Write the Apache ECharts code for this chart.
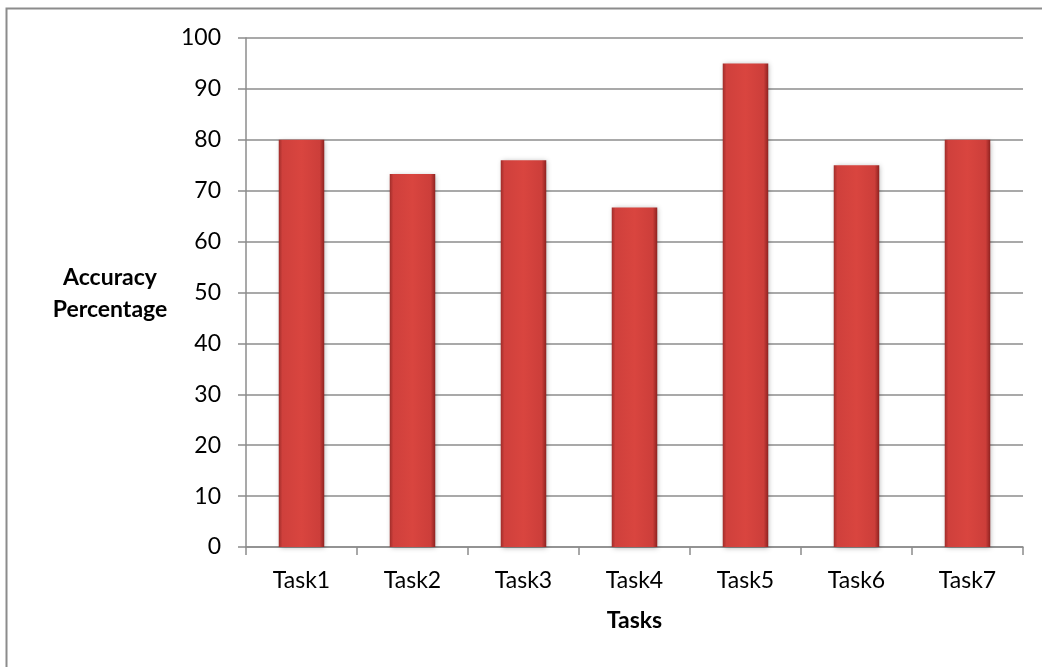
<!DOCTYPE html>
<html>
<head>
<meta charset="utf-8">
<script src="https://cdn.jsdelivr.net/npm/echarts@6/dist/echarts.min.js"></script>
<style>html,body{margin:0;padding:0;background:#fff;}#c{width:1042px;height:667px;}</style>
</head>
<body>
<div id="c"></div>
<script>
var categories = ["Task1", "Task2", "Task3", "Task4", "Task5", "Task6", "Task7"];
var accuracy = [80, 73.3, 76, 66.7, 95, 75, 80];
var yTitle = "Accuracy\nPercentage";
var xTitle = "Tasks";

var chart = echarts.init(document.getElementById('c'));
var font = "Lato";
chart.setOption({
  animation: false,
  backgroundColor: '#fff',
  grid: {left: 246, right: 19, top: 38, bottom: 120},
  graphic: [
    {type: 'polyline', shape: {points: [[6.5, 667], [6.5, 8.5], [1042, 8.5]]}, style: {stroke: '#8c8c8c', lineWidth: 2, fill: null}},
    {type: 'text', x: 110, y: 294, style: {text: yTitle, fontFamily: font, fontSize: 23, fontWeight: 'bold', fill: '#000', align: 'center', verticalAlign: 'middle', lineHeight: 32}}
  ],
  xAxis: {
    type: 'category', data: categories,
    name: xTitle, nameLocation: 'middle', nameGap: 62,
    nameTextStyle: {fontFamily: font, fontSize: 23, fontWeight: 'bold', color: '#000'},
    axisLine: {lineStyle: {color: '#8c8c8c', width: 1.5}},
    axisTick: {show: true, length: 8, lineStyle: {color: '#8c8c8c', width: 1.5}},
    axisLabel: {fontFamily: font, fontSize: 23, color: '#000', margin: 22}
  },
  yAxis: {
    type: 'value', min: 0, max: 100, interval: 10,
    axisLine: {show: true, lineStyle: {color: '#8c8c8c', width: 1.5}},
    axisTick: {show: true, length: 8, lineStyle: {color: '#8c8c8c', width: 1.5}},
    axisLabel: {fontFamily: font, fontSize: 23, color: '#000', margin: 25},
    splitLine: {lineStyle: {color: '#8c8c8c', width: 1.5}}
  },
  series: [{
    type: 'bar', data: accuracy, barWidth: '41%',
    itemStyle: {
      color: new echarts.graphic.LinearGradient(0, 0, 1, 0, [
        {offset: 0, color: '#a02d2a'},
        {offset: 0.08, color: '#cf403c'},
        {offset: 0.5, color: '#d9453f'},
        {offset: 0.9, color: '#cc3e3a'},
        {offset: 1, color: '#8e2220'}
      ]),
      shadowColor: 'rgba(0,0,0,0.3)', shadowBlur: 5, shadowOffsetX: 1, shadowOffsetY: 1
    }
  }]
});
</script>
</body>
</html>
